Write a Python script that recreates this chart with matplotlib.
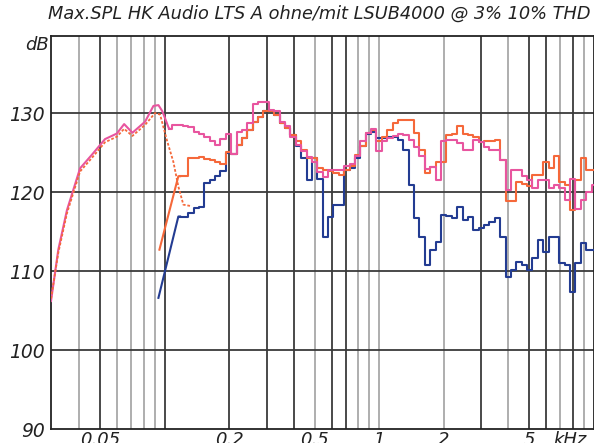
import numpy as np
import matplotlib
matplotlib.use("Agg")
import matplotlib.pyplot as plt

# ---------------- data ----------------
title = "Max.SPL HK Audio LTS A ohne/mit LSUB4000 @ 3% 10% THD"
y_ticks = [90, 100, 110, 120, 130]
x_ticks = [0.05, 0.2, 0.5, 1, 2, 5]
x_tick_labels = ["0.05", "0.2", "0.5", "1", "2", "5"]

# low-frequency (smooth) parts, frequency in kHz
pink_low_f = [0.0295, 0.0319, 0.0350, 0.0403, 0.0457, 0.0527, 0.0598, 0.0647, 0.0707, 0.0810, 0.0886, 0.0935, 0.0976, 0.1048]
pink_low_db = [106.2, 112.7, 117.7, 123.0, 124.7, 126.7, 127.4, 128.6, 127.5, 128.9, 130.9, 131.0, 130.2, 128.0]

orange_dot_f = [0.0295, 0.0319, 0.0350, 0.0403, 0.0457, 0.0527, 0.0598, 0.0647, 0.0707, 0.0810, 0.0902, 0.0952, 0.1023, 0.1098, 0.1158, 0.1222, 0.1338]
orange_dot_db = [106.5, 112.3, 117.3, 122.6, 124.3, 126.3, 127.0, 128.0, 127.1, 128.5, 130.0, 129.8, 126.6, 123.8, 120.7, 118.4, 118.2]

orange_low_f = [0.0945, 0.1158]
orange_low_db = [112.7, 122.0]
blue_low_f = [0.0935, 0.1158]
blue_low_db = [106.6, 116.9]

# 1/12-octave band values (band index k: centre = 2**(k/12) kHz)
pink_k0 = -39
pink_steps = [128.0, 128.5, 128.5, 128.4, 128.2, 127.6, 127.4, 127.0, 126.5, 126.0,
              126.7, 127.3, 124.8, 127.6, 127.8, 128.7, 131.2, 131.4, 131.4, 130.4,
              130.3, 128.9, 128.4, 127.0, 126.0, 125.2, 124.4, 123.8, 122.5, 121.9,
              122.8, 122.8, 122.8, 123.3, 123.6, 124.5, 126.5, 127.5, 128.0, 125.2,
              126.4, 126.9, 127.1, 127.4, 127.2, 126.6, 125.7, 124.5, 122.9, 123.2,
              121.5, 126.4, 126.6, 126.6, 126.2, 125.3, 125.3, 126.6, 126.3, 125.7,
              125.3, 125.3, 124.1, 120.3, 122.8, 122.8, 122.0, 121.5, 120.5, 121.5,
              121.5, 120.5, 120.9, 120.5, 119.0, 121.7, 117.9, 119.0, 120.0, 120.9]

orange_k0 = -37
orange_steps = [122.0, 122.0, 124.3, 124.3, 124.4, 124.2, 124.0, 123.8, 123.6, 125.1,
                124.8, 126.0, 126.8, 127.8, 128.9, 129.5, 130.2, 130.2, 129.8, 128.7,
                128.1, 127.2, 126.4, 125.3, 124.3, 124.3, 123.0, 122.8, 122.6, 122.4,
                122.2, 122.8, 123.3, 124.7, 125.8, 127.5, 127.9, 126.4, 127.0, 127.8,
                128.7, 129.1, 129.1, 129.1, 127.5, 125.3, 122.4, 123.2, 123.8, 123.8,
                127.2, 127.3, 128.3, 127.4, 127.2, 127.0, 126.3, 126.4, 126.5, 126.6,
                124.1, 118.8, 118.8, 121.3, 121.0, 120.7, 122.2, 122.2, 123.8, 123.0,
                124.5, 121.3, 120.9, 117.7, 121.5, 124.3, 122.8, 122.8]

blue_k0 = -37
blue_steps = [116.9, 116.9, 117.3, 118.0, 118.1, 121.1, 121.5, 122.0, 122.6, 124.9,
              124.8, 126.0, 126.8, 127.8, 128.9, 129.5, 130.2, 130.2, 129.8, 128.7,
              128.1, 127.2, 125.8, 124.3, 121.5, 124.3, 121.7, 114.3, 116.9, 118.4,
              118.4, 122.8, 123.0, 124.3, 125.8, 127.3, 127.6, 126.8, 126.8, 127.0,
              127.0, 126.6, 125.3, 120.9, 116.7, 114.3, 110.8, 112.7, 113.7, 117.1,
              117.0, 116.7, 118.1, 116.5, 116.9, 115.2, 115.5, 115.8, 116.2, 116.7,
              114.3, 109.3, 110.1, 111.2, 110.8, 110.1, 111.6, 113.9, 112.4, 114.3,
              114.3, 111.0, 110.8, 107.4, 111.0, 113.5, 112.7, 112.7]

# vertical grid: frequencies (kHz) and whether the line is drawn dark
grid_f = [0.04, 0.05, 0.06, 0.07, 0.08, 0.09, 0.1,
          0.2, 0.3, 0.4, 0.5, 0.6, 0.7, 0.8, 0.9, 1,
          2, 3, 4, 5, 6, 7, 8, 9]
grid_dark = [0, 1, 0, 0, 0, 0, 1,
             1, 1, 1, 0, 1, 1, 0, 0, 0,
             0, 1, 0, 1, 1, 0, 1, 0]


def band_freqs(k0, n):
    return [2.0 ** ((k0 + i) / 12.0) for i in range(n)]


# ---------------- figure ----------------
W, H = 594, 443
fig = plt.figure(figsize=(W / 100, H / 100), dpi=100)
ax = fig.add_axes([50.7 / W, 1 - 429 / H, (593.5 - 50.7) / W, (429 - 36) / H])
ax.set_xscale("log")
ax.set_xlim(0.0294, 10.0)
ax.set_ylim(90, 139.75)

for f, d in zip(grid_f, grid_dark):
    ax.axvline(f, color="#3a3a3a" if d else "#a8a8a8", lw=1.3, zorder=1)
for yv in y_ticks[1:]:
    ax.axhline(yv, color="#3a3a3a", lw=1.3, zorder=1)

PINK = "#e8559f"
ORANGE = "#f5683a"
BLUE = "#233c92"
LW = 1.5

ax.plot(band_freqs(blue_k0, len(blue_steps)), blue_steps, color=BLUE, lw=LW,
        drawstyle="steps-mid", zorder=3)
ax.plot(blue_low_f + [2.0 ** (blue_k0 / 12)], blue_low_db + [blue_steps[0]], color=BLUE, lw=LW, zorder=3)

ax.plot(band_freqs(orange_k0, len(orange_steps)), orange_steps, color=ORANGE, lw=LW,
        drawstyle="steps-mid", zorder=4)
ax.plot(orange_low_f + [2.0 ** (orange_k0 / 12)], orange_low_db + [orange_steps[0]], color=ORANGE, lw=LW, zorder=4)

ax.plot(band_freqs(pink_k0, len(pink_steps)), pink_steps, color=PINK, lw=LW,
        drawstyle="steps-mid", zorder=5)
ax.plot(pink_low_f + [2.0 ** (pink_k0 / 12)], pink_low_db + [pink_steps[0]], color=PINK, lw=LW, zorder=5)

ax.plot(orange_dot_f, orange_dot_db, color=ORANGE, lw=1.3, ls=(0, (1.5, 1.0)), zorder=6)

for s in ax.spines.values():
    s.set_color("#222222")
    s.set_linewidth(1.3)

ax.set_yticks(y_ticks)
ax.set_yticklabels([str(v) for v in y_ticks])
ax.set_xticks(x_ticks)
ax.set_xticklabels(x_tick_labels)
ax.xaxis.set_minor_locator(matplotlib.ticker.NullLocator())
ax.tick_params(axis="both", length=0)
ax.tick_params(axis="y", pad=4.5)
ax.tick_params(axis="x", pad=1.5)
for lab in ax.get_yticklabels():
    lab.set_fontstyle("italic")
    lab.set_fontsize(13.5)
    lab.set_color("#222222")
for lab in ax.get_xticklabels():
    lab.set_fontstyle("italic")
    lab.set_fontsize(13)
    lab.set_color("#222222")

ax.text(7.8, 89.7, "kHz", ha="center", va="top",
        fontsize=13, style="italic", color="#222222")

fig.text(48.5 / W, 1 - 45 / H, "dB", ha="right", va="center", fontsize=13,
         style="italic", color="#222222")
fig.text(319 / W, 1 - 14 / H, title, ha="center", va="center", fontsize=12.8,
         style="italic", color="#222222")

fig.savefig("out.png", dpi=100)
